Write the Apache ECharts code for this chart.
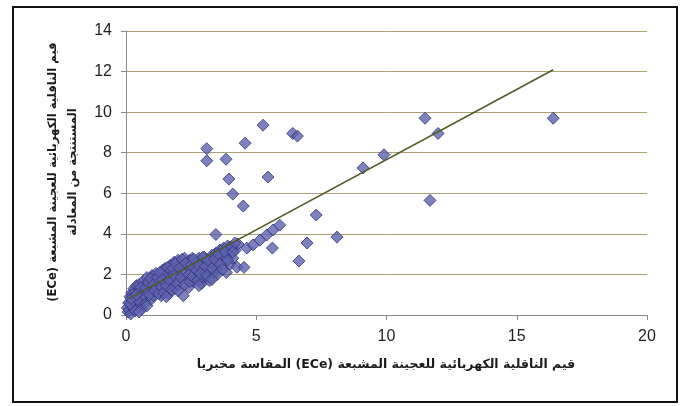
<!DOCTYPE html>
<html>
<head>
<meta charset="utf-8">
<script src="https://cdn.jsdelivr.net/npm/echarts@6/dist/echarts.min.js"></script>
<style>
  html, body { margin: 0; padding: 0; background: #fff; }
  #chart { width: 687px; height: 406px; }
</style>
</head>
<body>
<div id="chart"></div>
<script>
// Tick values for both axes
const xTicks = [0, 5, 10, 15, 20];
const yTicks = [0, 2, 4, 6, 8, 10, 12, 14];

// Axis titles (RTL embedding keeps the Arabic word order right-to-left)
const RLE = '\u202B', PDF = '\u202C';
const xTitle = 'قيم الناقلية الكهربائية للعجينة المشبعة (ECe) المقاسة مخبريا';
const yTitleLine1 = 'قيم الناقلية الكهربائية للعجينة المشبعة (ECe)';
const yTitleLine2 = 'المستنتجة من المعادلة';

// Measured ECe (x) vs ECe estimated from the equation (y): dense low-range group
const lowRangeSamples = [
  [0.05,0.35],[0.08,0.15],[0.10,0.60],[0.12,0.25],[0.15,0.90],[0.18,0.05],[0.20,0.45],[0.22,1.10],
  [0.25,0.70],[0.30,0.30],[0.30,1.30],[0.35,0.95],[0.40,0.55],[0.40,1.45],[0.45,1.15],[0.50,0.80],
  [0.50,1.50],[0.55,0.45],[0.60,1.20],[0.60,0.30],[0.65,1.65],[0.70,0.90],[0.70,1.45],[0.75,0.60],
  [0.80,1.85],[0.85,1.20],[0.90,1.60],[0.95,0.75],[1.00,1.95],[1.00,1.35],[1.05,0.95],[1.10,1.70],
  [1.15,2.05],[1.20,1.25],[1.25,1.50],[1.30,1.90],[1.35,0.95],[1.40,2.20],[1.45,1.60],[1.50,1.20],
  [1.50,2.30],[1.55,1.85],[1.60,2.05],[1.65,1.05],[1.70,1.50],[1.70,2.45],[1.75,2.15],[1.80,1.75],
  [1.85,2.60],[1.90,1.30],[1.95,2.30],[2.00,2.70],[2.00,1.95],[2.05,1.60],[2.10,2.50],[2.20,0.95],
  [2.20,2.15],[2.25,2.80],[2.30,1.80],[2.35,2.40],[2.40,1.35],[2.45,2.70],[2.50,2.05],[2.55,2.80],
  [2.60,1.65],[2.65,2.35],[2.70,2.60],[2.75,1.95],[2.80,2.80],[2.90,1.55],[2.90,2.25],[2.95,2.55],
  [3.00,1.85],[3.00,2.85],[3.05,2.10],[3.10,2.45],[3.20,1.70],[3.20,2.70],[3.25,2.20],[3.30,2.95],
  [3.35,2.50],[3.40,2.05],[3.45,3.05],[3.50,2.30],[3.55,2.75],[3.60,3.20],[3.65,2.55],[3.70,2.95],
  [3.75,3.30],[3.85,2.10],[3.85,2.80],[3.90,3.40],[3.95,3.05],[4.00,2.50],[4.05,3.35],[4.10,2.80],
  [4.20,3.20],[4.30,3.50],[4.00,3.35],[4.18,3.55],[4.26,2.36],
  [0.15,0.55],[0.25,1.00],[0.35,0.20],[0.45,0.75],[0.55,1.35],[0.65,1.00],[0.75,1.30],[0.80,0.45],
  [0.85,1.60],[0.90,1.00],[0.95,1.80],[1.05,1.50],[1.10,1.20],[1.20,1.85],[1.25,1.05],[1.30,2.10],
  [1.35,1.40],[1.40,1.75],[1.45,1.10],[1.55,1.45],[1.60,2.35],[1.65,1.75],[1.75,1.25],[1.80,2.30],
  [1.85,1.95],[1.90,2.55],[1.95,1.55],[2.05,2.30],[2.10,1.85],[2.15,2.75],[2.25,1.50],[2.30,2.55],
  [2.40,2.00],[2.45,1.65],[2.50,2.45],[2.55,1.90],[2.60,2.75],[2.70,2.20],[2.75,1.70],[2.80,2.45],
  [2.85,2.05],[2.95,2.85],[3.05,2.40],[3.10,1.95],[3.15,2.70],[3.30,2.30],[3.40,2.75],[3.50,2.00],
  [3.55,3.00],[3.60,2.50],[3.70,2.25],[3.80,3.10],[3.90,2.70],[4.10,3.10],[0.20,0.80],[0.40,1.00],
  [0.50,0.15],[1.55,0.90],[2.00,1.20],[2.80,1.45],[3.30,1.75]
];

// Mid and high range samples
const upperSamples = [
  [3.45,3.97],[4.53,2.35],[4.64,3.30],[4.88,3.45],[5.14,3.69],[5.40,3.94],[5.64,4.19],[5.90,4.43],
  [5.62,3.30],[6.64,2.66],[6.95,3.55],[8.10,3.84],[7.30,4.93],[4.50,5.37],[4.10,5.96],[3.95,6.70],
  [5.45,6.80],[3.10,7.60],[3.10,8.20],[3.84,7.68],[4.57,8.47],[5.26,9.36],[6.40,8.95],[6.58,8.82],
  [9.10,7.25],[9.90,7.90],[11.48,9.70],[11.98,8.95],[11.67,5.65],[16.40,9.70]
];

// Fitted trend line end points
const trendX = [0.10, 16.40];
const trendY = [0.81, 12.09];

const chart = echarts.init(document.getElementById('chart'), null, { renderer: 'canvas' });

const baseFont = "'Liberation Sans', Arial, 'DejaVu Sans', sans-serif";
const arabicFont = "'DejaVu Sans', 'Liberation Sans', sans-serif";
const gridColor = '#ab9f78';
const axisColor = '#8a8a8a';

const pointStyle = {
  color: '#5d61ae',
  borderColor: '#2f3279',
  borderWidth: 1
};

chart.setOption({
  backgroundColor: '#ffffff',
  animation: false,
  grid: { left: 126, right: 40, top: 31, bottom: 91 },
  xAxis: {
    type: 'value',
    min: xTicks[0],
    max: xTicks[xTicks.length - 1],
    interval: xTicks[1] - xTicks[0],
    axisLine: { show: true, lineStyle: { color: axisColor, width: 1 } },
    axisTick: { show: true, length: 5, lineStyle: { color: axisColor } },
    axisLabel: { margin: 14, color: '#1e1e1e', fontSize: 16, fontFamily: baseFont },
    splitLine: { show: false }
  },
  yAxis: {
    type: 'value',
    min: yTicks[0],
    max: yTicks[yTicks.length - 1],
    interval: yTicks[1] - yTicks[0],
    axisLine: { show: true, lineStyle: { color: axisColor, width: 1 } },
    axisTick: { show: true, length: 5, lineStyle: { color: axisColor } },
    axisLabel: { margin: 14, color: '#1e1e1e', fontSize: 16, fontFamily: baseFont },
    splitLine: { show: true, lineStyle: { color: gridColor, width: 1 } }
  },
  graphic: [
    {
      type: 'rect',
      shape: { x: 13, y: 7, width: 664, height: 395 },
      style: { fill: 'none', stroke: '#111111', lineWidth: 2 },
      silent: true
    },
    {
      type: 'text',
      x: 386, y: 365,
      style: {
        text: RLE + xTitle + PDF,
        font: "bold 12.5px " + arabicFont,
        fill: '#1a1a1a',
        textAlign: 'center',
        textVerticalAlign: 'middle'
      }
    },
    {
      type: 'text',
      x: 63, y: 172,
      rotation: Math.PI / 2,
      style: {
        text: RLE + yTitleLine1 + PDF + '\n' + RLE + yTitleLine2 + PDF,
        font: "bold 11.6px " + arabicFont,
        fill: '#1a1a1a',
        textAlign: 'center',
        textVerticalAlign: 'middle',
        lineHeight: 20
      }
    }
  ],
  series: [
    {
      type: 'scatter',
      symbol: 'diamond',
      symbolSize: 12,
      data: lowRangeSamples,
      itemStyle: pointStyle,
      z: 2
    },
    {
      type: 'scatter',
      symbol: 'diamond',
      symbolSize: 12,
      data: upperSamples,
      itemStyle: pointStyle,
      z: 2
    },
    {
      type: 'line',
      data: trendX.map((x, i) => [x, trendY[i]]),
      showSymbol: false,
      symbol: 'none',
      lineStyle: { color: '#4f5b22', width: 1.5 },
      z: 3
    }
  ]
});
</script>
</body>
</html>
